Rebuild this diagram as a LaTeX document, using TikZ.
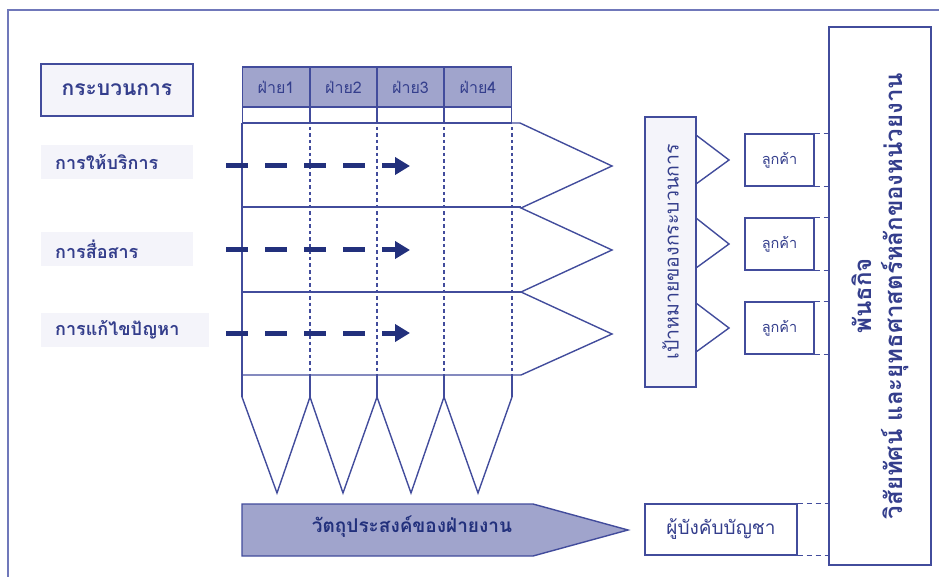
\documentclass[tikz,border=0pt]{standalone}
\usepackage{fontspec}
\newfontfamily\thai[Script=Thai]{Loma}
\usetikzlibrary{arrows.meta}
\definecolor{frameblue}{RGB}{112,120,186}
\definecolor{lineblue}{RGB}{66,76,156}
\definecolor{textblue}{RGB}{52,62,140}
\definecolor{darkblue}{RGB}{34,48,124}
\definecolor{headfill}{RGB}{160,164,204}
\definecolor{palefill}{RGB}{244,244,250}
\tikzset{
  x=1pt, y=-1pt,
  every node/.style={font=\thai, text=textblue},
  outline/.style={draw=lineblue, line width=1.4pt},
  box/.style={outline, rectangle, inner sep=0pt},
  palebox/.style={box, fill=palefill},
  headcell/.style={box, fill=headfill, minimum width=67pt, minimum height=40pt, font=\thai\fontsize{16}{18}\selectfont},
  blankcell/.style={box, fill=white, minimum width=67pt, minimum height=16pt},
  rowlabel/.style={fill=palefill, inner sep=0pt, inner xsep=14pt, minimum height=34pt, align=left, anchor=west, font=\thai\bfseries\fontsize{18}{20}\selectfont},
  laneline/.style={draw=lineblue, line width=1.1pt, dash pattern=on 3.5pt off 3pt},
  flow/.style={draw=darkblue, line width=5pt, dash pattern=on 22pt off 17pt, -{Triangle[length=15pt,width=17pt]}},
  link/.style={draw=lineblue, line width=1.3pt, dash pattern=on 5pt off 4pt},
  custbox/.style={box, minimum width=69pt, minimum height=52pt, font=\thai\fontsize{14.5}{16}\selectfont},
}
\begin{document}
\begin{tikzpicture}
\useasboundingbox (0,0) rectangle (939,577);

% outer frame (left and top edges only)
\draw[frameblue, line width=2pt] (8,577) -- (8,10) -- (939,10);

% process heading and row labels
\node[palebox, minimum width=152pt, minimum height=52pt, font=\thai\bfseries\fontsize{21}{23}\selectfont] (proc) at (117,90) {กระบวนการ};
\node[rowlabel, text width=124pt] (r1) at (41,162) {การให้บริการ};
\node[rowlabel, text width=124pt] (r2) at (41,249.5) {การสื่อสาร};
\node[rowlabel, text width=140pt] (r3) at (41,330) {การแก้ไขปัญหา};

% department columns
\foreach \i/\cx in {1/276, 2/343.5, 3/410.5, 4/478} {
  \node[headcell] (h\i) at (\cx,87) {ฝ่าย\i};
  \node[blankcell] (b\i) at (\cx,115) {};
}

% process rows with chevron ends
\draw[outline, line join=miter]
  (242,123) -- (520,123) -- (612,166) -- (521,208) -- (612,250)
  -- (521,292) -- (612,334) -- (521,375) -- (242,375);
\draw[outline] (242,207) -- (521,207);
\draw[outline] (242,292) -- (521,292);
\draw[outline] (242,123) -- (242,397);

% lane separators: dashed inside the rows, solid below them
\foreach \x in {310,377,444,512} {
  \draw[laneline] (\x,127) -- (\x,375);
  \draw[outline] (\x,375) -- (\x,397);
}

% objective points under the columns
\draw[outline, line join=miter]
  (242,397) -- (277,493) -- (310,397) -- (343,493) -- (377,397)
  -- (411,493) -- (444,397) -- (478,493) -- (512,397);

% flows across the departments
\foreach \y/\n in {166/1, 250/2, 333/3} {
  \coordinate (fs\n) at (226,\y);
  \coordinate (fe\n) at (410,\y);
  \draw[flow] (fs\n) -- (fe\n);
}

% department objectives arrow
\draw[outline, fill=headfill, line join=miter]
  (242,504) -- (533,504) -- (628,530) -- (533,556) -- (242,556) -- cycle;
\node[font=\thai\bfseries\fontsize{19}{21}\selectfont, text=darkblue] (obj) at (412,527) {วัตถุประสงค์ของฝ่ายงาน};

% process goals
\node[palebox, rotate=90, minimum width=270pt, minimum height=51pt, font=\thai\fontsize{19.5}{21}\selectfont] (goal) at (670.5,252) {เป้าหมายของกระบวนการ};
\foreach \ya/\yb/\yc in {135/160/184, 218/244/268, 303/328/352} {
  \draw[outline, line join=miter] (696,\ya) -- (729,\yb) -- (696,\yc);
}

% customers
\node[custbox] (c1) at (779.5,160) {ลูกค้า};
\node[custbox] (c2) at (779.5,244) {ลูกค้า};
\node[custbox] (c3) at (779.5,328) {ลูกค้า};

% superior
\node[box, minimum width=152pt, minimum height=51pt, font=\thai\fontsize{19}{21}\selectfont] (boss) at (721,529.5) {ผู้บังคับบัญชา};

% mission, vision and strategy
\node[box, rotate=90, minimum width=538pt, minimum height=102pt, align=center,
      font=\thai\bfseries\fontsize{24}{31}\selectfont] (mission) at (880,296)
  {พันธกิจ\\วิสัยทัศน์ และยุทธศาสตร์หลักของหน่วยงาน};

% links to the mission box
\foreach \n in {c1,c2,c3,boss} {
  \draw[link] (\n.north east) -- (\n.north east -| mission.north);
  \draw[link] (\n.south east) -- (\n.south east -| mission.north);
}
\end{tikzpicture}
\end{document}
